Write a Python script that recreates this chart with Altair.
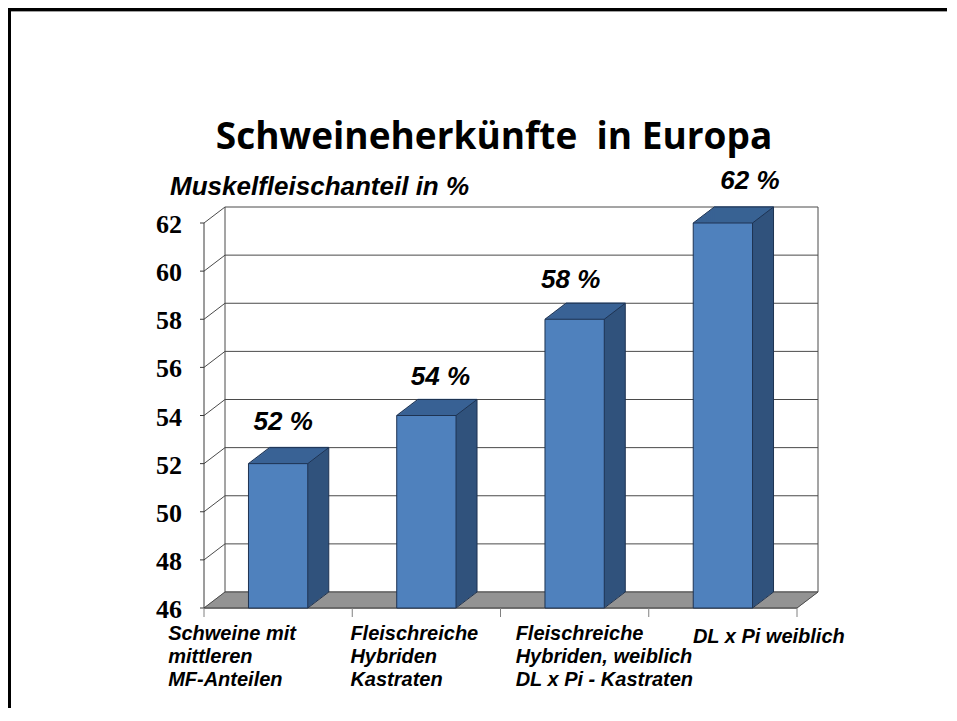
import altair as alt
import pandas as pd

# ---------------- data ----------------
categories = [
    "Schweine mit\nmittleren\nMF-Anteilen",
    "Fleischreiche\nHybriden\nKastraten",
    "Fleischreiche\nHybriden, weiblich\nDL x Pi - Kastraten",
    "DL x Pi weiblich",
]
values = [52, 54, 58, 62]
value_labels = ["52 %", "54 %", "58 %", "62 %"]
y_ticks = [46, 48, 50, 52, 54, 56, 58, 60, 62]
y_tick_labels = ["46", "48", "50", "52", "54", "56", "58", "60", "62"]
title_text = "Schweineherkünfte \u00a0in Europa"
y_title_text = "Muskelfleischanteil in %"

# ---------------- style ----------------
W, H = 593, 385
DX, DY = 21, 16
STEPS = 16
FRONT = "#4F81BD"
SIDE = "#30527C"
TOP = "#3C679B"
EDGE = "#1E3352"
FLOOR = "#8C8C8C"
GRID = "#4A4A4A"
AXIS = "#3A3A3A"
STEP = W / (4 - 0.6 + 0.6)
BW = STEP * 0.4
HB = BW / 2
val_dx = [5, 14, -4, 27]
val_dy = [-42, -39, -39, -42]
cat_dx = [-110, -76, -59, -30]
cat_top = [401, 401, 401, 404]

df = pd.DataFrame({"cat": categories, "val": values, "lab": value_labels})
tick_df = pd.DataFrame({"t": y_ticks, "tl": y_tick_labels})
one = pd.DataFrame({"d": [0]})

xscale = alt.Scale(domain=categories, paddingInner=0.6, paddingOuter=0.3)
yscale = alt.Scale(domain=[46, 62], nice=False, zero=False)


def X():
    return alt.X("cat:N", sort=categories, scale=xscale, axis=None)


def Y():
    return alt.Y("val:Q", scale=yscale, axis=None)


def YT():
    return alt.Y("t:Q", scale=yscale, axis=None)


def YD(v):
    return alt.Y(datum=v, type="quantitative", scale=yscale, axis=None)


layers = []

# floor (gray parallelogram)
for k in range(STEPS + 1):
    s = k * DX / STEPS
    layers.append(
        alt.Chart(one).mark_rule(color=FLOOR, strokeWidth=1.6, yOffset=-k).encode(
            x=alt.value(s), x2=alt.value(W + s), y=YD(46)
        )
    )

# back wall gridlines
layers.append(
    alt.Chart(tick_df).mark_rule(color=GRID, strokeWidth=1, yOffset=-DY).encode(
        x=alt.value(DX), x2=alt.value(W + DX), y=YT()
    )
)
# left wall diagonals
layers.append(
    alt.Chart(tick_df).mark_rule(color=GRID, strokeWidth=1, y2Offset=-DY).encode(
        x=alt.value(0), x2=alt.value(DX), y=YT(), y2=alt.Y2("t:Q")
    )
)
# back wall verticals
for xv in (DX, W + DX):
    layers.append(
        alt.Chart(one).mark_rule(color=GRID, strokeWidth=1, yOffset=-DY, y2Offset=-DY).encode(
            x=alt.value(xv), y=YD(62), y2=alt.Y2(datum=46)
        )
    )
# floor right diagonal
layers.append(
    alt.Chart(one).mark_rule(color=GRID, strokeWidth=1, y2Offset=-DY).encode(
        x=alt.value(W), x2=alt.value(W + DX), y=YD(46), y2=alt.Y2(datum=46)
    )
)

# y axis: line, ticks, labels
layers.append(
    alt.Chart(one).mark_rule(color=AXIS, strokeWidth=1).encode(
        x=alt.value(0), y=YD(62), y2=alt.Y2(datum=46)
    )
)
layers.append(
    alt.Chart(tick_df).mark_rule(color=AXIS, strokeWidth=1).encode(
        x=alt.value(-4), x2=alt.value(0), y=YT()
    )
)
layers.append(
    alt.Chart(tick_df).mark_text(
        font="Liberation Serif", fontWeight="bold", fontSize=26, color="black",
        align="right", baseline="middle", dx=-22, dy=2
    ).encode(x=alt.value(0), y=YT(), text="tl:N")
)

# x axis: front floor edge and ticks at band boundaries
layers.append(
    alt.Chart(one).mark_rule(color=AXIS, strokeWidth=1).encode(
        x=alt.value(0), x2=alt.value(W), y=YD(46)
    )
)
layers.append(
    alt.Chart(df).mark_rule(color="#808080", strokeWidth=1, xOffset=-STEP / 2).encode(
        x=X(), y=alt.value(H), y2=alt.value(H + 9)
    )
)
layers.append(
    alt.Chart(one).mark_rule(color="#808080", strokeWidth=1).encode(
        x=alt.value(W), y=alt.value(H), y2=alt.value(H + 9)
    )
)

# bar extrusion (side)
for k in range(1, STEPS + 1):
    s = k * DX / STEPS
    layers.append(
        alt.Chart(df).mark_bar(color=SIDE, xOffset=s, x2Offset=s, yOffset=-k, y2Offset=-k).encode(
            x=X(), y=Y(), y2=alt.Y2(datum=46)
        )
    )
# top face
for k in range(0, STEPS + 1):
    s = k * DX / STEPS
    layers.append(
        alt.Chart(df).mark_tick(color=TOP, size=BW, thickness=1.6, orient="horizontal",
                                xOffset=s, yOffset=-k).encode(x=X(), y=Y())
    )

# front face
layers.append(
    alt.Chart(df).mark_bar(color=FRONT, stroke=EDGE, strokeWidth=1).encode(
        x=X(), y=Y(), y2=alt.Y2(datum=46)
    )
)

# bar edges
edge = dict(color=EDGE, strokeWidth=1)
layers.append(alt.Chart(df).mark_rule(xOffset=-HB, x2Offset=-HB + DX, y2Offset=-DY, **edge).encode(
    x=X(), x2=alt.X2("cat:N"), y=Y(), y2=alt.Y2("val:Q")))
layers.append(alt.Chart(df).mark_rule(xOffset=HB, x2Offset=HB + DX, y2Offset=-DY, **edge).encode(
    x=X(), x2=alt.X2("cat:N"), y=Y(), y2=alt.Y2("val:Q")))
layers.append(alt.Chart(df).mark_rule(xOffset=-HB + DX, x2Offset=HB + DX, yOffset=-DY, **edge).encode(
    x=X(), x2=alt.X2("cat:N"), y=Y()))
layers.append(alt.Chart(df).mark_rule(xOffset=HB + DX, yOffset=-DY, y2Offset=-DY, **edge).encode(
    x=X(), y=Y(), y2=alt.Y2(datum=46)))
layers.append(alt.Chart(df).mark_rule(xOffset=HB, x2Offset=HB + DX, y2Offset=-DY, **edge).encode(
    x=X(), x2=alt.X2("cat:N"), y=YD(46), y2=alt.Y2(datum=46)))

# value labels
for i, lab in enumerate(value_labels):
    layers.append(
        alt.Chart(df).transform_filter(alt.datum.lab == lab).mark_text(
            font="Liberation Sans", fontWeight="bold", fontStyle="italic", fontSize=26,
            color="black", align="center", baseline="middle", dx=val_dx[i], dy=val_dy[i]
        ).encode(x=X(), y=Y(), text="lab:N")
    )

# category labels
for i, c in enumerate(categories):
    layers.append(
        alt.Chart(df).transform_filter(alt.datum.cat == c).mark_text(
            font="Liberation Sans", fontWeight="bold", fontStyle="italic", fontSize=20,
            color="black", align="left", baseline="top", lineBreak="\n", lineHeight=23,
            dx=cat_dx[i]
        ).encode(x=X(), y=alt.value(cat_top[i]), text="cat:N")
    )

# title and y title
layers.append(alt.Chart(one).mark_text(
    text=title_text, font="Open Sans", fontWeight="bold", fontSize=37, color="black",
    align="center", baseline="middle").encode(x=alt.value(290), y=alt.value(-85)))
layers.append(alt.Chart(one).mark_text(
    text=y_title_text, font="Liberation Sans", fontWeight="bold", fontStyle="italic",
    fontSize=26, color="black", align="left", baseline="middle").encode(
    x=alt.value(-34), y=alt.value(-36)))

# slide frame
layers.append(alt.Chart(one).mark_rule(color="black", strokeWidth=3).encode(
    x=alt.value(-200), x2=alt.value(760), y=alt.value(-213.5)))
layers.append(alt.Chart(one).mark_rule(color="#A0A0A0", strokeWidth=1).encode(
    x=alt.value(-193), x2=alt.value(760), y=alt.value(-211.5)))
layers.append(alt.Chart(one).mark_rule(color="black", strokeWidth=3).encode(
    x=alt.value(-194.5), y=alt.value(-215), y2=alt.value(500)))

chart = alt.layer(*layers).properties(
    width=W, height=H,
    autosize=alt.AutoSizeParams(type="none"),
    padding={"left": 196, "top": 215, "right": 150, "bottom": 100},
).configure_view(stroke=None)

chart.save("out.html", embed_options={"renderer": "svg", "actions": False})
